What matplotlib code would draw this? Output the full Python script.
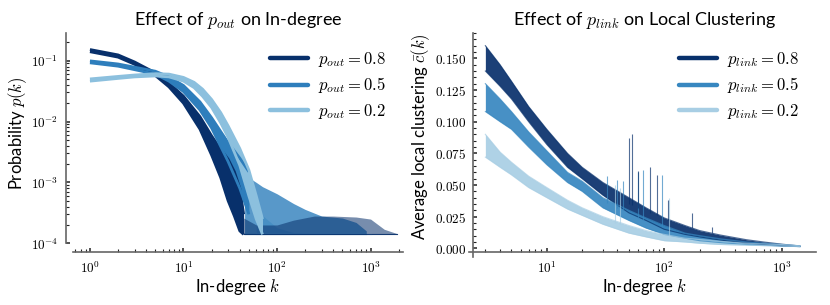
import numpy as np
import matplotlib
matplotlib.use("Agg")
import matplotlib.pyplot as plt
from matplotlib.lines import Line2D
from matplotlib.ticker import LogLocator, FuncFormatter, MultipleLocator, NullFormatter

plt.rcParams['mathtext.fontset'] = 'cm'
plt.rcParams['font.family'] = ['Lato', 'DejaVu Sans']

# ---------------- Left panel: in-degree distribution (log-log) ----------------
pout_labels = ['0.8', '0.5', '0.2']
p_floor = 1.4e-4

# main band (lower / upper envelope of the ensemble of runs)
k_p08 = [1, 2, 3, 5, 7, 10, 15, 20, 25, 30, 35, 40, 44]
lo_p08 = [0.140, 0.114, 0.087, 0.057, 0.037, 0.020, 0.0075, 0.0028, 0.0012, 0.0005, 0.00028, 0.00016, 0.00014]
hi_p08 = [0.152, 0.124, 0.095, 0.063, 0.043, 0.026, 0.0120, 0.0058, 0.0035, 0.0024, 0.0015, 0.0008, 0.0003]

k_p05 = [1, 2, 3, 5, 7, 10, 15, 20, 30, 40, 50]
lo_p05 = [0.092, 0.081, 0.071, 0.060, 0.046, 0.031, 0.0155, 0.0078, 0.0022, 0.0008, 0.0003]
hi_p05 = [0.099, 0.088, 0.078, 0.067, 0.054, 0.039, 0.021, 0.0115, 0.0045, 0.0025, 0.0015]

k_p02 = [1, 2, 3, 5, 7, 10, 13, 16, 20, 25, 30, 40, 50, 60, 70]
lo_p02 = [0.046, 0.051, 0.054, 0.056, 0.054, 0.046, 0.036, 0.026, 0.017, 0.0095, 0.0055, 0.0019, 0.0006, 0.00025, 0.00014]
hi_p02 = [0.050, 0.055, 0.058, 0.061, 0.060, 0.053, 0.044, 0.034, 0.023, 0.0140, 0.0085, 0.0036, 0.0016, 0.0006, 0.00025]

# noisy tails (between floor 1/N and an upper envelope)
tk_p08 = [44, 60, 100, 150, 250, 400, 700, 1000, 1400, 1900]
th_p08 = [2.6e-4, 2.0e-4, 2.0e-4, 2.4e-4, 2.8e-4, 2.8e-4, 2.7e-4, 2.5e-4, 1.7e-4, 1.45e-4]
tk_p05 = [45, 50, 60, 70, 100, 150, 200, 300, 500, 700, 900]
th_p05 = [1.4e-3, 1.2e-3, 1.0e-3, 8.5e-4, 6.5e-4, 4.5e-4, 3.6e-4, 2.8e-4, 2.6e-4, 2.2e-4, 1.6e-4]
tk_p02 = [60, 80, 100, 150, 300, 600, 1000]
th_p02 = [3.5e-4, 2.4e-4, 1.8e-4, 1.5e-4, 1.45e-4, 1.45e-4, 1.42e-4]

# ---------------- Right panel: local clustering vs in-degree ----------------
plink_labels = ['0.8', '0.5', '0.2']
kc = [3, 4, 5, 7, 10, 15, 20, 30, 50, 70, 100, 150, 200, 300, 500, 700, 1000, 1430]
lo_c08 = [0.140, 0.128, 0.118, 0.100, 0.082, 0.064, 0.055, 0.042, 0.028, 0.022, 0.015, 0.011, 0.009, 0.0065, 0.0042, 0.0030, 0.0020, 0.0015]
hi_c08 = [0.160, 0.145, 0.132, 0.112, 0.094, 0.075, 0.064, 0.052, 0.040, 0.032, 0.024, 0.018, 0.014, 0.0105, 0.0068, 0.0050, 0.0033, 0.0018]
lo_c05 = [0.108, 0.100, 0.094, 0.080, 0.066, 0.052, 0.045, 0.032, 0.022, 0.016, 0.011, 0.008, 0.006, 0.0045, 0.0030, 0.0025, 0.0018, 0.0013]
hi_c05 = [0.130, 0.118, 0.108, 0.092, 0.077, 0.060, 0.053, 0.040, 0.030, 0.024, 0.018, 0.012, 0.010, 0.0075, 0.0050, 0.0040, 0.0030, 0.0020]
lo_c02 = [0.072, 0.064, 0.058, 0.048, 0.040, 0.031, 0.026, 0.019, 0.012, 0.009, 0.006, 0.005, 0.004, 0.003, 0.0025, 0.0021, 0.0018, 0.0014]
hi_c02 = [0.090, 0.076, 0.068, 0.057, 0.048, 0.038, 0.032, 0.025, 0.018, 0.014, 0.011, 0.008, 0.007, 0.0055, 0.0040, 0.0034, 0.0030, 0.0020]

# spikes of individual runs
sk_c08 = [50.1, 53.5, 60.3, 75.7, 86.3, 108, 171, 253]
st_c08 = [0.087, 0.090, 0.061, 0.064, 0.058, 0.038, 0.028, 0.017]
sb_c08 = [0.035, 0.034, 0.032, 0.028, 0.026, 0.022, 0.016, 0.012]
sk_c05 = [32.4, 39.4, 44.9, 60.0, 66.4, 95.2]
st_c05 = [0.057, 0.054, 0.053, 0.060, 0.062, 0.058]
sb_c05 = [0.036, 0.032, 0.030, 0.024, 0.022, 0.017]
sk_c02 = [38, 42, 110]
st_c02 = [0.050, 0.048, 0.040]
sb_c02 = [0.020, 0.019, 0.010]

col_left = ['#08306b', '#2e7ebc', '#8cc0de']
col_right = ['#08306b', '#3787c0', '#a8cee4']

fig = plt.figure(figsize=(8.3, 3.05), dpi=100)
ax1 = fig.add_axes([0.0883, 0.2023, 0.3969, 0.6895])
ax2 = fig.add_axes([0.5695, 0.1728, 0.4136, 0.719])

# ---- left ----
ax1.set_xscale('log'); ax1.set_yscale('log')
tails = [(tk_p02, th_p02, 2, 0.7), (tk_p05, th_p05, 1, 0.8), (tk_p08, th_p08, 0, 0.55)]
for tk, th, ci, a in tails:
    ax1.fill_between(tk, [p_floor] * len(tk), th, color=col_left[ci], alpha=a, lw=0)
    ax1.plot(tk, [p_floor] * len(tk), color=col_left[ci], lw=0.8, alpha=0.9)
mains = [(k_p08, lo_p08, hi_p08, 0), (k_p05, lo_p05, hi_p05, 1), (k_p02, lo_p02, hi_p02, 2)]
for k, lo, hi, ci in mains:
    ax1.fill_between(k, lo, hi, color=col_left[ci], lw=0)
    ax1.plot(k, lo, color=col_left[ci], lw=2.0, solid_capstyle='butt')
    ax1.plot(k, hi, color=col_left[ci], lw=2.0, solid_capstyle='butt')

ax1.set_xlim(10 ** -0.178, 10 ** 3.344)
ax1.set_ylim(1e-4, 0.284)

# ---- right ----
ax2.set_xscale('log')
bands = [(lo_c08, hi_c08, 0), (lo_c05, hi_c05, 1), (lo_c02, hi_c02, 2)]
for lo, hi, ci in bands:
    ax2.fill_between(kc, lo, hi, color=col_right[ci], alpha=0.92, lw=0)
    ax2.plot(kc, lo, color=col_right[ci], lw=0.8, alpha=0.7)
    ax2.plot(kc, hi, color=col_right[ci], lw=0.8, alpha=0.7)
for sk, st, sb, ci in [(sk_c02, st_c02, sb_c02, 2), (sk_c05, st_c05, sb_c05, 1), (sk_c08, st_c08, sb_c08, 0)]:
    ax2.vlines(sk, sb, st, color=col_right[ci], lw=0.8, alpha=0.7)

ax2.set_xlim(2.34, 1958)
ax2.set_ylim(-0.00316, 0.170)

# ---- styling ----
def log_fmt(v, pos):
    e = int(np.round(np.log10(v)))
    return r'$10^{%d}$' % e

for ax in (ax1, ax2):
    for s in ('top', 'right'):
        ax.spines[s].set_visible(False)
    for s in ('left', 'bottom'):
        ax.spines[s].set_color('#666666')
        ax.spines[s].set_linewidth(1.2)
    ax.tick_params(which='major', direction='in', length=3.2, width=1.1, color='#222222', labelsize=9.5)
    ax.tick_params(which='minor', direction='in', length=2.0, width=0.8, color='#222222')
    ax.xaxis.set_major_locator(LogLocator(base=10, numticks=10))
    ax.xaxis.set_minor_locator(LogLocator(base=10, subs=np.arange(2, 10), numticks=10))
    ax.xaxis.set_major_formatter(FuncFormatter(log_fmt))
    ax.xaxis.set_minor_formatter(NullFormatter())
    ax.tick_params(axis='x', pad=5.0)

ax1.spines['left'].set_position(('outward', 5.5))
ax1.spines['bottom'].set_position(('outward', 6.5))
ax1.yaxis.set_major_locator(LogLocator(base=10, numticks=10))
ax1.yaxis.set_minor_locator(LogLocator(base=10, subs=np.arange(2, 10), numticks=10))
ax1.yaxis.set_major_formatter(FuncFormatter(log_fmt))
ax1.yaxis.set_minor_formatter(NullFormatter())
ax1.tick_params(axis='y', pad=5.3)

ax2.spines['left'].set_bounds(-0.0069, 0.170)
ax2.spines['bottom'].set_bounds(2.18, 1958)
ax2.yaxis.set_major_locator(MultipleLocator(0.025))
ax2.yaxis.set_minor_locator(MultipleLocator(0.005))
ax2.yaxis.set_major_formatter(FuncFormatter(lambda v, p: r'$%.3f$' % v))
ax2.tick_params(axis='y', pad=4.5, labelsize=9.5)

ax1.set_title(r'Effect of $p_{out}$ on In-degree', fontsize=13, pad=5.5)
ax2.set_title(r'Effect of $p_{link}$ on Local Clustering', fontsize=13, pad=5.5)
ax1.set_xlabel(r'In-degree $k$', fontsize=12, labelpad=2)
ax2.set_xlabel(r'In-degree $k$', fontsize=12, labelpad=2)
ax1.set_ylabel(r'Probability $p(k)$', fontsize=12)
ax2.set_ylabel(r'Average local clustering $\bar{c}(k)$', fontsize=12)
ax1.yaxis.set_label_coords(-0.134, 0.522)
ax2.yaxis.set_label_coords(-0.1186, 0.528)

h1 = [Line2D([], [], color=col_left[i], lw=3.2, solid_capstyle='round') for i in range(3)]
ax1.legend(h1, [r'$p_{out} = %s$' % s for s in pout_labels], loc='upper right', frameon=False,
           fontsize=12, handlelength=2.3, handletextpad=0.6, labelspacing=0.4, borderaxespad=0.6)
h2 = [Line2D([], [], color=col_right[i], lw=3.2, solid_capstyle='round') for i in range(3)]
ax2.legend(h2, [r'$p_{link} = %s$' % s for s in plink_labels], loc='upper right', frameon=False,
           fontsize=12, handlelength=2.3, handletextpad=0.6, labelspacing=0.4, borderaxespad=0.6)

fig.savefig('out.png', dpi=100)
